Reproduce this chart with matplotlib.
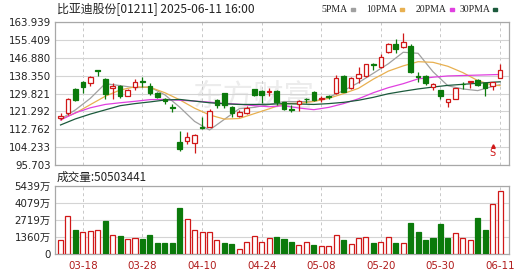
import matplotlib
matplotlib.use('Agg')
import matplotlib.pyplot as plt
import numpy as np

# K线数据 (港元)，2025-03-13 ~ 2025-06-11
opens = [118.3, 120.4, 131.8, 135.2, 135.0, 140.8, 136.7, 132.3, 133.4, 128.8,
         132.9, 135.6, 133.4, 130.2, 127.2, 123.4, 106.8, 107.3, 106.1, 113.6,
         114.0, 126.7, 129.9, 123.5, 119.3, 120.7, 131.8, 131.0, 130.4, 131.0,
         125.6, 122.3, 124.6, 127.3, 130.7, 127.2, 128.5, 129.9, 138.3, 132.4,
         137.2, 138.0, 144.0, 142.6, 149.5, 153.5, 152.0, 152.7, 138.0, 138.4,
         132.7, 131.3, 126.0, 127.4, 134.5, 135.4, 136.3, 134.7, 133.2, 137.4]
highs = [120.4, 127.6, 132.3, 135.6, 138.0, 140.9, 137.2, 134.8, 133.8, 132.0,
         136.7, 137.8, 135.0, 130.6, 127.6, 124.6, 112.0, 111.5, 110.5, 118.6,
         122.3, 127.2, 130.1, 124.0, 122.0, 124.0, 132.0, 131.3, 132.3, 131.3,
         126.0, 124.3, 126.5, 127.5, 131.0, 128.5, 129.3, 138.5, 138.5, 137.6,
         142.6, 143.9, 144.2, 148.5, 154.0, 155.7, 158.7, 153.5, 140.3, 138.6,
         134.7, 131.5, 127.3, 132.4, 135.4, 135.8, 136.6, 134.9, 135.4, 144.0]
lows = [117.2, 119.8, 126.3, 130.2, 133.5, 138.2, 127.0, 127.2, 127.9, 128.5,
        131.5, 132.8, 129.1, 127.5, 124.8, 120.9, 102.5, 105.5, 101.6, 112.8,
        113.6, 123.0, 122.8, 118.4, 118.8, 120.0, 128.5, 125.2, 128.6, 124.3,
        121.8, 120.8, 121.5, 125.5, 126.2, 125.8, 127.3, 129.5, 130.3, 132.0,
        135.0, 137.5, 141.0, 142.2, 149.0, 149.2, 151.5, 139.5, 135.3, 134.0,
        131.5, 127.0, 123.5, 127.2, 131.8, 132.3, 133.4, 128.8, 131.5, 137.0]
closes = [118.9, 127.0, 126.9, 132.8, 137.5, 140.6, 129.5, 133.4, 128.8, 131.5,
          135.2, 135.1, 130.0, 128.0, 126.3, 123.1, 103.3, 109.0, 110.0, 113.2,
          121.4, 124.5, 124.2, 120.7, 121.2, 122.8, 129.1, 129.2, 130.9, 125.9,
          122.6, 122.0, 126.1, 127.1, 126.7, 127.5, 128.2, 137.4, 130.7, 137.2,
          138.9, 143.8, 143.6, 147.2, 153.3, 151.0, 154.5, 140.3, 137.6, 134.7,
          134.4, 128.8, 127.1, 132.3, 134.2, 135.6, 133.9, 132.3, 135.2, 141.0]
# 成交量 (万股)
volume = [1120, 3060, 1940, 1800, 1860, 1930, 2660, 1530, 1460, 1220,
          1270, 1200, 1530, 920, 920, 920, 3720, 2790, 1950, 1760,
          1750, 1140, 920, 810, 420, 980, 1450, 980, 1260, 1370,
          1200, 990, 720, 950, 720, 640, 640, 1520, 1120, 800,
          1290, 1350, 890, 970, 1350, 890, 890, 2510, 1770, 1150,
          1300, 2410, 1300, 1690, 1300, 1150, 2890, 1930, 4000, 5050]

# 均线读数
ma_idx = [0, 2, 4, 6, 8, 10, 12, 14, 16, 18, 20, 22, 24, 26, 28, 30,
          32, 34, 36, 38, 40, 42, 44, 46, 48, 50, 52, 54, 56, 58, 59]
ma5 = [117.6, 122.0, 127.5, 134.5, 133.6, 132.6, 132.9, 129.2, 123.3, 116.5,
       112.4, 117.5, 122.6, 123.2, 124.5, 126.0, 125.9, 126.1, 128.0, 131.2,
       135.0, 139.5, 144.0, 149.5, 149.0, 140.2, 133.5, 132.0, 131.2, 133.2, 134.0]
ma10 = [117.5, 120.5, 124.5, 128.5, 131.5, 133.0, 132.8, 130.2, 126.8, 122.8,
        119.6, 117.6, 117.9, 120.2, 122.5, 125.0, 125.1, 126.0, 127.5, 129.8,
        132.3, 136.7, 140.5, 143.0, 145.0, 144.7, 142.8, 139.8, 136.0, 133.8, 133.6]
ma20 = [117.2, 120.6, 123.0, 124.6, 125.4, 126.1, 126.9, 127.0, 126.6, 126.2,
        125.7, 125.1, 124.7, 124.0, 123.5, 124.0, 122.9, 122.1, 123.2, 125.0,
        127.3, 130.2, 132.6, 134.5, 136.8, 137.6, 138.2, 138.4, 138.6, 138.8, 138.9]
ma30 = [114.8, 117.7, 120.0, 122.0, 124.0, 125.0, 125.8, 126.7, 127.0, 126.2,
        125.4, 124.9, 124.6, 124.6, 124.7, 125.0, 124.8, 124.6, 125.0, 125.6,
        126.6, 128.0, 129.7, 130.9, 132.0, 132.9, 133.7, 134.2, 134.7, 135.2, 135.4]

date_pos = [3, 11, 19, 27, 35, 43, 51, 59]
date_labels = ['03-18', '03-28', '04-10', '04-24', '05-08', '05-20', '05-30', '06-11']
price_ticks = [95.703, 104.233, 112.762, 121.292, 129.821, 138.350, 146.880, 155.409, 163.939]
vol_ticks = [0, 1360, 2719, 4079, 5439]
vol_labels = ['0', '1360万', '2719万', '4079万', '5439万']

RED = '#d01818'
GREEN = '#0b7a0b'
GRID = '#d4d4d4'
FONT = ['DejaVu Sans', 'Noto Sans CJK SC']
plt.rcParams['font.family'] = FONT

W, H = 530, 276
fig = plt.figure(figsize=(W / 100, H / 100), dpi=100)
ax = fig.add_axes([55 / W, 1 - 165 / H, 454 / W, 143 / H])
axv = fig.add_axes([55 / W, 1 - 254.3 / H, 454 / W, 68.3 / H])

x = np.arange(len(closes))
o = np.array(opens); c = np.array(closes)
h = np.array(highs); l = np.array(lows)
up = c >= o

# 影线
ax.vlines(x, l, h, colors=np.where(up, RED, GREEN), linewidth=0.9, zorder=3)
# 实体
bottom = np.minimum(o, c)
height = np.maximum(np.abs(c - o), 0.25)
ax.bar(x, height, 0.62, bottom=bottom, facecolor=np.where(up, 'white', GREEN),
       edgecolor=np.where(up, RED, GREEN), linewidth=0.9, zorder=4)

ax.plot(ma_idx, ma5, color='#a0a0a0', lw=0.9, zorder=2)
ax.plot(ma_idx, ma10, color='#e8b050', lw=0.9, zorder=2)
ax.plot(ma_idx, ma20, color='#e040e0', lw=0.9, zorder=2)
ax.plot(ma_idx, ma30, color='#1b5a3c', lw=0.9, zorder=2)

ax.text(26, 128, '东方财富', fontsize=22, color='#ececec', style='italic',
        ha='center', va='center', zorder=0, family=['Noto Sans CJK SC'])

# S 标记
ax.plot([58], [104.6], marker='^', color=RED, ms=2.5, zorder=5)
ax.text(58, 101.6, 'S', color=RED, fontsize=7, ha='center', va='center', zorder=5)

# 成交量
prev = np.concatenate([[c[0] - 1], c[:-1]])
vup = c >= prev
axv.bar(x, volume, 0.68, facecolor=np.where(vup, 'white', GREEN),
        edgecolor=np.where(vup, RED, GREEN), linewidth=0.9, zorder=3)

for a in (ax, axv):
    a.set_xlim(-0.74, 60.2)
    a.set_xticks(date_pos)
    a.tick_params(length=0, labelsize=7.4, colors='#222222', pad=3)
    a.grid(axis='y', color=GRID, lw=0.8, ls='-', zorder=0)
    a.grid(axis='x', color='#c8c8c8', lw=0.7, ls=(0, (3, 3)), zorder=0)
    a.set_axisbelow(True)
    for s in a.spines.values():
        s.set_color('#a8a8a8')
        s.set_linewidth(0.9)

ax.set_ylim(price_ticks[0], price_ticks[-1])
ax.set_yticks(price_ticks)
ax.set_yticklabels(['%.3f' % v for v in price_ticks])
ax.set_xticklabels([])

axv.set_ylim(0, 5439)
axv.set_yticks(vol_ticks)
axv.set_yticklabels(vol_labels)
axv.set_xticklabels(date_labels)
axv.tick_params(axis='x', colors='#b01c1c', pad=5)

fig.text(57 / W, 1 - 9.5 / H, '比亚迪股份[01211] 2025-06-11 16:00', fontsize=8.6,
         va='center', family=['Noto Sans CJK SC'], color='#222222')
fig.text(57 / W, 1 - 177 / H, '成交量:50503441', fontsize=8.4,
         va='center', family=['Noto Sans CJK SC'], color='#222222')

legend = [('5PMA', 351, '#a0a0a0'), ('10PMA', 400, '#e8b050'),
          ('20PMA', 450, '#e040e0'), ('30PMA', 493, '#1b5a3c')]
for name, sx, col in legend:
    fig.text((sx - 3) / W, 1 - 9.5 / H, name, fontsize=7.0, va='center', ha='right',
             family=['Liberation Serif'], color='#222222')
    fig.patches.append(plt.Rectangle((sx / W, 1 - 10.5 / H), 3.5 / W, 2.2 / H,
                                     transform=fig.transFigure, color=col))

fig.savefig('out.png', dpi=100)
